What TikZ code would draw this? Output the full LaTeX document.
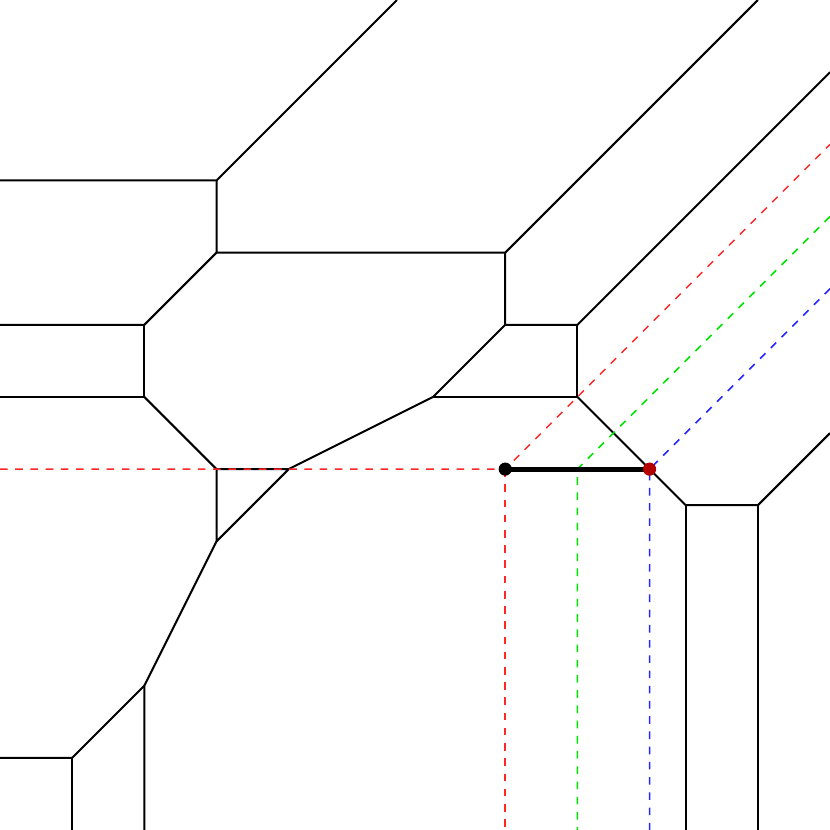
\documentclass[tikz,border=0pt]{standalone}
\begin{document}
\begin{tikzpicture}[x=1cm,y=-1cm,
  curve/.style={black,line width=0.8pt},
  guide/.style={dashed,line width=0.6pt},
  thickseg/.style={black,line width=2pt},
  dotmark/.style={circle,inner sep=0pt,minimum size=5.2pt}]
\useasboundingbox (0,0) rectangle (11.5,11.5);
% vertices
\coordinate (A) at (3,2.5);
\coordinate (B) at (3,3.5);
\coordinate (C) at (7,3.5);
\coordinate (D) at (2,4.5);
\coordinate (E) at (2,5.5);
\coordinate (F) at (3,6.5);
\coordinate (G) at (4,6.5);
\coordinate (H) at (3,7.5);
\coordinate (I) at (6,5.5);
\coordinate (J) at (7,4.5);
\coordinate (K) at (8,4.5);
\coordinate (L) at (8,5.5);
\coordinate (M) at (9.5,7);
\coordinate (N) at (10.5,7);
\coordinate (O) at (2,9.5);
\coordinate (P) at (1,10.5);
% ends
\coordinate (eA) at (5.5,0);
\coordinate (wA) at (0,2.5);
\coordinate (eC) at (10.5,0);
\coordinate (wD) at (0,4.5);
\coordinate (wE) at (0,5.5);
\coordinate (eK) at (11.5,1);
\coordinate (eN) at (11.5,6);
\coordinate (sM) at (9.5,11.5);
\coordinate (sN) at (10.5,11.5);
\coordinate (sO) at (2,11.5);
\coordinate (wP) at (0,10.5);
\coordinate (sP) at (1,11.5);
% guide points
\coordinate (Q0) at (7,6.5);
\coordinate (Q1) at (8,6.5);
\coordinate (Q2) at (9,6.5);
\coordinate (rW) at (0,6.5);
\coordinate (rNE) at (11.5,2);
\coordinate (rS) at (7,11.5);
\coordinate (gNE) at (11.5,3);
\coordinate (gS) at (8,11.5);
\coordinate (bNE) at (11.5,4);
\coordinate (bS) at (9,11.5);
% curve
\draw[curve] (wA) -- (A) -- (eA);
\draw[curve] (A) -- (B) -- (C) -- (eC);
\draw[curve] (C) -- (J) -- (K) -- (eK);
\draw[curve] (B) -- (D) -- (wD);
\draw[curve] (D) -- (E) -- (wE);
\draw[curve] (E) -- (F) -- (G) -- (H) -- (F);
\draw[curve] (G) -- (I) -- (J);
\draw[curve] (I) -- (L) -- (K);
\draw[curve] (L) -- (M) -- (N) -- (eN);
\draw[curve] (M) -- (sM);
\draw[curve] (N) -- (sN);
\draw[curve] (H) -- (O) -- (sO);
\draw[curve] (O) -- (P) -- (wP);
\draw[curve] (P) -- (sP);
% guides
\draw[guide,red!85] (rW) -- (Q0) -- (rNE);
\draw[guide,red!85] (Q0) -- (rS);
\draw[guide,green!90!black] (gNE) -- (Q1) -- (gS);
\draw[guide,blue!85] (bNE) -- (Q2) -- (bS);
% thick segment
\draw[thickseg] (Q0) -- (Q2);
\node[dotmark,fill=black] (d0) at (Q0) {};
\node[dotmark,fill=red!70!black] (d2) at (Q2) {};
\end{tikzpicture}
\end{document}
